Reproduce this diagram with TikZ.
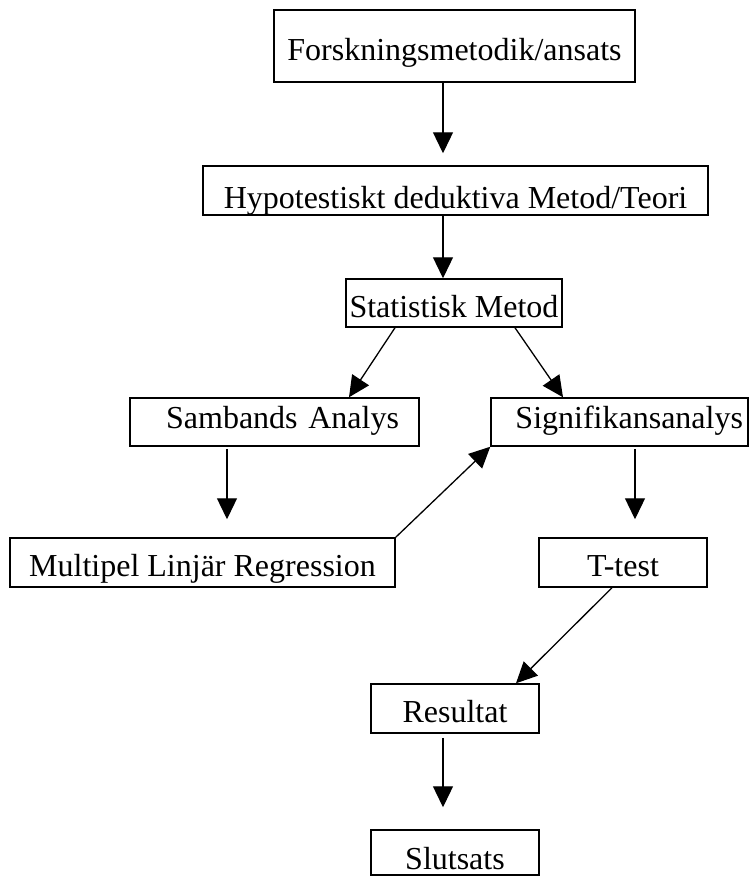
\documentclass[tikz,border=0pt]{standalone}
\usepackage{fontspec}
\setmainfont{Liberation Serif}
\usetikzlibrary{arrows.meta}
\begin{document}
\begin{tikzpicture}[x=1pt,y=-1pt,
  box/.style={draw,line width=1.5pt,inner sep=0pt,font=\fontsize{32}{36}\selectfont,text height=28pt,text depth=0pt,anchor=center},
  arr/.style={line width=1.3pt,-{Triangle[length=21pt,width=20pt]}}]
\useasboundingbox[fill=white] (0,0) rectangle (749,876);
\node[box,minimum width=361pt,minimum height=72pt] (b1) at (454.5,46) {Forskningsmetodik/ansats};
\node[box,minimum width=505pt,minimum height=49pt,text height=36pt] (b2) at (455.5,190.5) {Hypotestiskt deduktiva Metod/Teori};
\node[box,minimum width=216pt,minimum height=48pt] (b3) at (454,303) {Statistisk Metod};
\node[box,minimum width=289pt,minimum height=48pt,text height=12pt,text width=249pt,align=right] (b4) at (274.5,422) {Sambands Analys};
\node[box,minimum width=257pt,minimum height=48pt,text height=12pt,text width=247pt,align=right] (b5) at (619.5,422) {Signifikansanalys};
\node[box,minimum width=385pt,minimum height=49pt] (b6) at (202.5,562.5) {Multipel Linjär Regression};
\node[box,minimum width=168pt,minimum height=49pt] (b7) at (623,562.5) {T-test};
\node[box,minimum width=168pt,minimum height=49pt] (b8) at (455,708.5) {Resultat};
\node[box,minimum width=168pt,minimum height=45pt,text height=33pt] (b9) at (455,852.5) {Slutsats};
\draw[arr] ([xshift=-11.5pt]b1.south) -- ([xshift=-12.5pt,yshift=12pt]b2.north);
\draw[arr] ([xshift=-12.5pt]b2.south) -- ([xshift=-11pt]b3.north);
\draw[arr] ([xshift=-59pt]b3.south) -- ([xshift=74.5pt]b4.north);
\draw[arr] ([xshift=61pt]b3.south) -- ([xshift=-56.5pt]b5.north);
\draw[arr] ([xshift=-47.5pt,yshift=-2pt]b4.south) -- ([xshift=24.5pt,yshift=18pt]b6.north);
\draw[arr] (b6.north east) -- (b5.south west);
\draw[arr] ([xshift=15.5pt,yshift=-2pt]b5.south) -- ([xshift=12pt,yshift=18pt]b7.north);
\draw[arr] ([xshift=-11pt]b7.south) -- ([xshift=61pt]b8.north);
\draw[arr] ([xshift=-12pt,yshift=-4pt]b8.south) -- ([xshift=-12pt,yshift=22pt]b9.north);
\end{tikzpicture}
\end{document}
